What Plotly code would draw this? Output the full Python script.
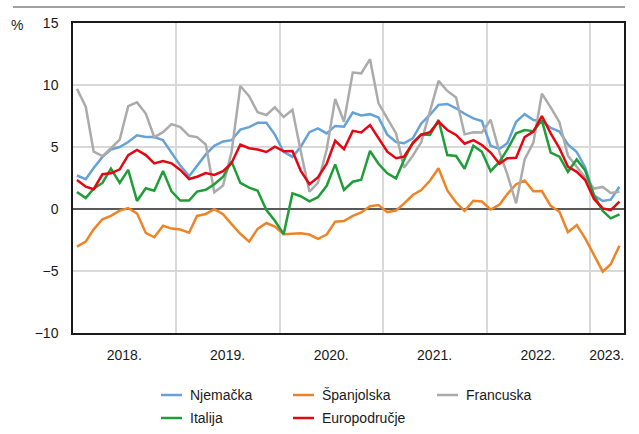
import pandas as pd
import plotly.graph_objects as go

# Monthly observations Jan 2018 - Apr 2023 (plotted mid-month)
months = pd.date_range("2018-01-01", periods=64, freq="MS") + pd.Timedelta(days=14)

njemacka = [2.7, 2.4, 3.3, 4.2, 4.8, 5.0, 5.4, 5.95, 5.8, 5.8,
            5.55, 4.5, 3.5, 2.65, 3.5, 4.4, 5.1, 5.45, 5.55, 6.4,
            6.6, 6.95, 6.95, 6.0, 4.6, 4.2, 5.0, 6.2, 6.5, 6.1,
            6.7, 6.64, 7.78, 7.55, 7.65, 7.38, 6.0, 5.4, 5.3, 5.7,
            6.9, 7.6, 8.4, 8.47, 8.12, 7.68, 7.31, 7.1, 5.1, 4.85,
            5.3, 7.04, 7.65, 7.18, 7.1, 6.55, 6.25, 5.2, 4.6, 3.35,
            1.1, 0.65, 0.75, 1.8]

spanjolska = [-3.04, -2.63, -1.64, -0.83, -0.56, -0.13, 0.08, -0.35, -1.93, -2.28,
              -1.35, -1.58, -1.66, -1.91, -0.56, -0.4, -0.02, -0.42, -1.22, -2.0,
              -2.63, -1.6, -1.13, -1.42, -2.03, -2.01, -1.95, -2.06, -2.4, -2.06,
              -1.02, -0.97, -0.55, -0.28, 0.23, 0.32, -0.25, -0.12, 0.43, 1.13,
              1.53, 2.3, 3.28, 1.5, 0.52, -0.15, 0.67, 0.6, -0.04, 0.35,
              1.2, 2.0, 2.3, 1.43, 1.45, 0.25, -0.22, -1.87, -1.3, -2.37,
              -3.71, -5.05, -4.45, -2.96]

francuska = [9.7, 8.25, 4.62, 4.27, 4.9, 5.6, 8.3, 8.6, 7.7, 5.8,
             6.2, 6.85, 6.6, 5.9, 5.8, 5.2, 1.35, 1.9, 4.6, 9.92,
             9.1, 7.8, 7.58, 8.2, 7.42, 8.0, 4.7, 1.4, 2.1, 4.8,
             8.88, 7.04, 11.0, 10.94, 12.08, 8.52, 7.31, 6.1, 3.33, 4.3,
             5.4, 7.9, 10.33, 9.52, 8.99, 6.02, 6.18, 6.17, 7.2, 4.6,
             2.8, 0.46, 4.0, 5.35, 9.3, 8.2, 7.0, 4.3, 3.4, 2.6,
             1.65, 1.78, 1.3, 1.4]

italija = [1.37, 0.88, 1.64, 2.1, 3.25, 2.1, 3.15, 0.65, 1.67, 1.47,
           3.06, 1.42, 0.68, 0.68, 1.4, 1.55, 2.0, 2.6, 3.82, 2.1,
           1.73, 1.48, -0.08, -0.95, -2.03, 1.26, 1.03, 0.62, 0.95, 1.87,
           3.6, 1.53, 2.2, 2.36, 4.68, 3.65, 2.88, 2.47, 3.95, 5.35,
           6.0, 5.97, 7.18, 4.35, 4.27, 3.25, 5.1, 4.62, 3.05, 3.8,
           4.8, 6.1, 6.37, 6.28, 7.15, 4.55, 4.22, 3.0, 4.0, 3.1,
           1.1, -0.15, -0.75, -0.43]

europodrucje = [2.34, 1.8, 1.6, 2.8, 2.88, 3.2, 4.35, 4.76, 4.35, 3.68,
                3.87, 3.68, 3.15, 2.42, 2.6, 2.9, 2.75, 3.05, 3.7, 5.2,
                4.9, 4.8, 4.6, 5.03, 4.65, 4.68, 3.1, 2.0, 2.55, 3.65,
                5.5, 4.82, 6.3, 6.18, 6.77, 5.72, 4.62, 4.1, 4.22, 5.3,
                6.0, 6.2, 7.04, 6.37, 5.97, 5.27, 5.56, 5.16, 4.55, 3.65,
                4.09, 4.13, 5.8, 6.25, 7.5, 6.1, 4.9, 3.41, 3.0, 2.34,
                0.8, 0.05, -0.1, 0.6]

series_names = ["Njemačka", "Španjolska", "Francuska", "Italija", "Europodručje"]
series_values = [njemacka, spanjolska, francuska, italija, europodrucje]
series_colors = ["#64a2d9", "#ef8427", "#acabab", "#1f9d38", "#e30613"]

year_tick_positions = ["2018-07-01", "2019-07-01", "2020-07-01", "2021-07-01", "2022-07-01", "2023-03-01"]
year_tick_labels = ["2018.", "2019.", "2020.", "2021.", "2022.", "2023."]
y_tick_values = [-10, -5, 0, 5, 10, 15]

FONT = "Liberation Sans, Arial, sans-serif"
W, H = 639, 434
ML, MR, MT, MB = 73, 15, 23, 101
PW, PH = W - ML - MR, H - MT - MB


def px_x(px):
    return (px - ML) / PW


def px_y(py):
    return (H - MB - py) / PH


fig = go.Figure()
for name, vals, col in zip(series_names, series_values, series_colors):
    fig.add_trace(go.Scatter(x=months, y=vals, name=name, mode="lines",
                             line=dict(color=col, width=2.5), showlegend=False))

fig.update_layout(
    width=W, height=H,
    margin=dict(l=ML, r=MR, t=MT, b=MB),
    paper_bgcolor="white", plot_bgcolor="white",
    font=dict(family=FONT, size=14, color="#1a1a1a"),
    showlegend=False,
    xaxis=dict(range=["2018-01-01", "2023-05-01"], type="date",
               tickmode="array", tickvals=year_tick_positions, ticktext=year_tick_labels,
               showgrid=False, ticks="outside", ticklen=8, tickcolor="rgba(0,0,0,0)",
               showline=True, linecolor="#1a1a1a", linewidth=1.5, mirror=True,
               minor=dict(tick0="2018-01-01", dtick="M12", showgrid=True,
                          gridcolor="#d9d9d9", gridwidth=1.5, ticks=""),
               zeroline=False),
    yaxis=dict(range=[-10, 15], tickmode="array", tickvals=y_tick_values,
               showgrid=True, gridcolor="#d9d9d9", gridwidth=1.5,
               zeroline=True, zerolinecolor="#595959", zerolinewidth=1.5,
               ticks="outside", ticklen=10, tickcolor="rgba(0,0,0,0)",
               showline=True, linecolor="#1a1a1a", linewidth=1.5, mirror=True),
)

fig.add_annotation(text="%", xref="paper", yref="paper", x=px_x(17), y=px_y(25),
                   xanchor="center", yanchor="middle", showarrow=False,
                   font=dict(size=14))
fig.add_shape(type="line", xref="paper", yref="paper",
              x0=px_x(13), x1=px_x(625), y0=px_y(7), y1=px_y(7),
              line=dict(color="#444444", width=1.2))

# Legend (drawn manually to match the reference's 3-column layout)
legend_cols = [161, 293, 437]
legend_rows = [395, 418]
for k, (name, col) in enumerate(zip(series_names, series_colors)):
    cx = legend_cols[k % 3]
    cy = legend_rows[k // 3]
    fig.add_shape(type="line", xref="paper", yref="paper",
                  x0=px_x(cx), x1=px_x(cx + 21), y0=px_y(cy), y1=px_y(cy),
                  line=dict(color=col, width=2.5))
    fig.add_annotation(text=name, xref="paper", yref="paper",
                       x=px_x(cx + 27), y=px_y(cy), xanchor="left", yanchor="middle",
                       showarrow=False, font=dict(size=14))

fig.write_html("out.html",
               config={"displayModeBar": False},
               post_script="document.body.style.margin='0';document.body.style.padding='0';")
